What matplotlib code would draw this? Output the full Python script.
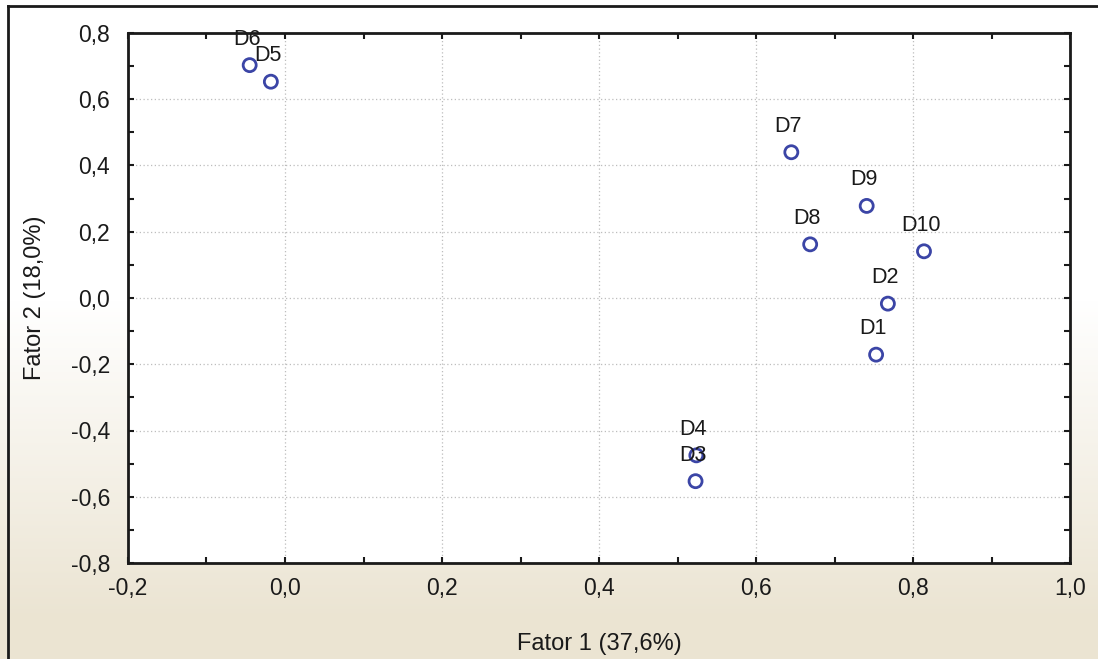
import numpy as np
import matplotlib
matplotlib.use("Agg")
import matplotlib.pyplot as plt
from matplotlib.ticker import MultipleLocator, FuncFormatter

# cargas fatoriais das amostras
rotulos = ["D1", "D2", "D3", "D4", "D5", "D6", "D7", "D8", "D9", "D10"]
fator1 = [0.753, 0.768, 0.523, 0.524, -0.018, -0.045, 0.645, 0.669, 0.741, 0.814]
fator2 = [-0.171, -0.017, -0.553, -0.475, 0.653, 0.703, 0.440, 0.162, 0.278, 0.141]

plt.rcParams["font.family"] = ["Liberation Sans", "DejaVu Sans"]

fig = plt.figure(figsize=(10.98, 6.59), dpi=100)

# fundo: papel claro que fica bege na parte de baixo
fundo = fig.add_axes([0, 0, 1, 1], zorder=-10)
h = 659
t = np.clip((np.arange(h) - 300) / 320.0, 0, 1)[::-1]
branco = np.array([1.0, 1.0, 1.0])
bege = np.array([235, 228, 210]) / 255.0
grad = branco[None, :] * (1 - t[:, None]) + bege[None, :] * t[:, None]
img = np.repeat(grad[:, None, :], 20, axis=1)
fundo.imshow(img, aspect="auto", extent=[0, 1, 0, 1], origin="lower")
fundo.plot([8 / 1098, 8 / 1098], [0, 1 - 6 / 659], color="#1a1a1a", lw=2)
fundo.plot([8 / 1098, 1], [1 - 6 / 659, 1 - 6 / 659], color="#1a1a1a", lw=2)
fundo.set_xlim(0, 1)
fundo.set_ylim(0, 1)
fundo.axis("off")

ax = fig.add_axes([128 / 1098, 1 - 563 / 659, 942 / 1098, 530 / 659])
ax.set_facecolor("white")

ax.scatter(fator1, fator2, s=88, facecolors="none", edgecolors="#3b45a6",
           linewidths=2, zorder=3)
for r, x, y in zip(rotulos, fator1, fator2):
    ax.annotate(r, (x, y), xytext=(-3, 26), textcoords="offset pixels",
                ha="center", va="center", fontsize=15.5, color="#1a1a1a", zorder=4)

ax.set_xlim(-0.2, 1.0)
ax.set_ylim(-0.8, 0.8)
ax.xaxis.set_major_locator(MultipleLocator(0.2))
ax.yaxis.set_major_locator(MultipleLocator(0.2))
ax.xaxis.set_minor_locator(MultipleLocator(0.1))
ax.yaxis.set_minor_locator(MultipleLocator(0.1))
virgula = FuncFormatter(lambda v, p: f"{v:.1f}".replace(".", ",").replace("-0,0", "0,0"))
ax.xaxis.set_major_formatter(virgula)
ax.yaxis.set_major_formatter(virgula)

ax.grid(True, which="major", linestyle=(0, (1, 2)), color="#bdbdbd", lw=0.9)
ax.tick_params(which="both", direction="in", top=True, right=True,
               color="#1a1a1a", labelsize=16.5, labelcolor="#1a1a1a")
ax.tick_params(which="major", length=4, width=1.5)
ax.tick_params(which="minor", length=4, width=1.5)
ax.tick_params(axis="x", pad=10)
ax.tick_params(axis="y", pad=13)
for s in ax.spines.values():
    s.set_linewidth(2)
    s.set_color("#1a1a1a")

ax.set_xlabel("Fator 1 (37,6%)", fontsize=17, color="#1a1a1a", labelpad=24)
ax.set_ylabel("Fator 2 (18,0%)", fontsize=17, color="#1a1a1a", labelpad=18)

fig.savefig("out.png", dpi=100)
